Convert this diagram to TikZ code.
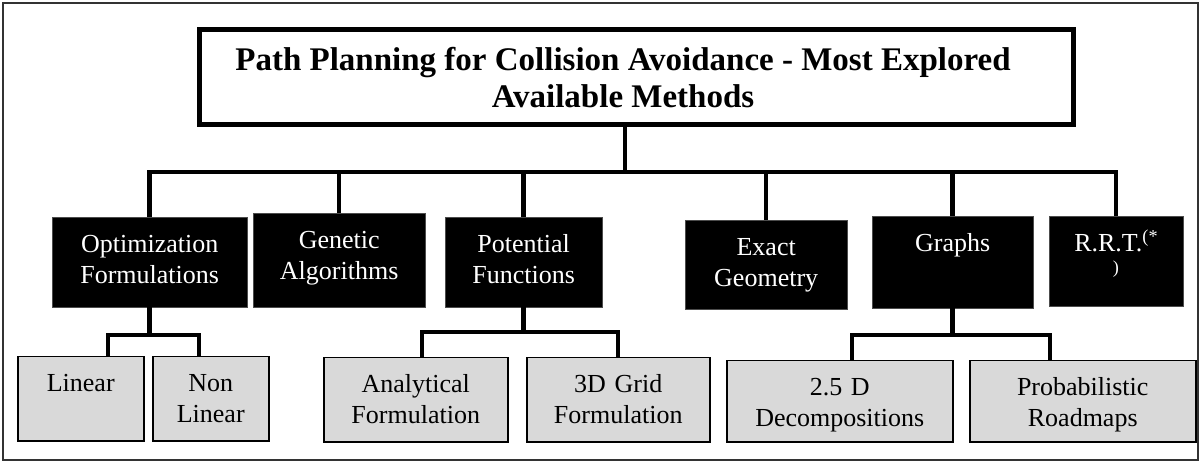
\documentclass[tikz,border=0pt]{standalone}
\usepackage{fontspec}
\setmainfont{Liberation Serif}
\usetikzlibrary{calc,positioning}

\definecolor{boxgray}{HTML}{D9D9D9}
\newcommand\headfont{\fontsize{33}{37}\selectfont\bfseries}
\newcommand\boxfont{\fontsize{26}{31}\selectfont}

\tikzset{
  titlebox/.style={draw,line width=5pt,minimum width=874pt,minimum height=95pt},
  titletext/.style={align=center,font=\headfont,inner sep=0pt},
  method/.style={draw=black!70,fill=black,text=white,inner sep=0pt,
    anchor=north west,align=center,font=\boxfont,text height=35pt},
  variant/.style={draw,line width=1.5pt,fill=boxgray,inner sep=0pt,
    anchor=north west,align=center,font=\boxfont,text height=35pt},
  link/.style={line width=4.5pt},
  frame/.style={draw=black!80,line width=1.5pt}
}

\begin{document}
\begin{tikzpicture}[x=1pt,y=-1pt]
\useasboundingbox (0,0) rectangle (1203,462);
\draw[frame] (3,3) rectangle (1198,460);

% top of the tree
\node[titlebox] (titlebox) at (636.5,77) {};
\node[titletext] (title) at (623,78)
  {Path Planning for Collision Avoidance - Most Explored\\Available Methods};

% methods
\node[method,text width=195pt,text depth=55pt] (opt) at (52,217) {Optimization\\Formulations};
\node[method,text width=172pt,text depth=59pt] (gen) at (253,213) {Genetic\\Algorithms};
\node[method,text width=157pt,text depth=55pt] (pot) at (445,217) {Potential\\Functions};
\node[method,text width=162pt,text depth=54pt] (exact) at (685,220) {Exact\\Geometry};
\node[method,text width=161pt,text depth=57pt] (graphs) at (872,216) {Graphs};
\node[method,text width=134pt,text depth=55pt] (rrt) at (1049,216)
  {R.R.T.\textsuperscript{(*}\\\textsuperscript{)}};

% variants
\node[variant,text width=126pt,text depth=49pt] (lin) at (17,356) {Linear};
\node[variant,text width=116pt,text depth=49pt] (nonlin) at (152,356) {Non\\Linear};
\node[variant,text width=184pt,text depth=49pt] (analyt) at (323,357) {Analytical\\Formulation};
\node[variant,text width=183pt,text depth=49pt] (grid) at (526,357) {3D Grid\\Formulation};
\node[variant,text width=226pt,text depth=46pt] (decomp) at (726,360) {2.5 D\\Decompositions};
\node[variant,text width=226pt,text depth=46pt] (prob) at (969,360) {Probabilistic\\Roadmaps};

% main bus
\coordinate (hub) at (625,172);
\draw[link] (titlebox.south -| hub) -- (hub);
\draw[link] (opt.north) |- (hub) -| (rrt.north);
\foreach \m in {gen,pot,exact,graphs}
  \draw[link] (\m.north) -- (\m.north |- hub);

% sub buses
\coordinate (linjoin) at (108,335);
\coordinate (nonjoin) at (199,335);
\draw[link] (opt.south) -- (opt.south |- linjoin);
\draw[link] (lin.north -| linjoin) |- (nonjoin) -- (nonlin.north -| nonjoin);

\coordinate (anjoin) at (422,332);
\coordinate (gridjoin) at (618,332);
\draw[link] (pot.south) -- (pot.south |- anjoin);
\draw[link] (analyt.north -| anjoin) |- (gridjoin) -- (grid.north -| gridjoin);

\coordinate (decjoin) at (852,335);
\coordinate (probjoin) at (1050,335);
\draw[link] (graphs.south) -- (graphs.south |- decjoin);
\draw[link] (decomp.north -| decjoin) |- (probjoin) -- (prob.north -| probjoin);
\end{tikzpicture}
\end{document}
